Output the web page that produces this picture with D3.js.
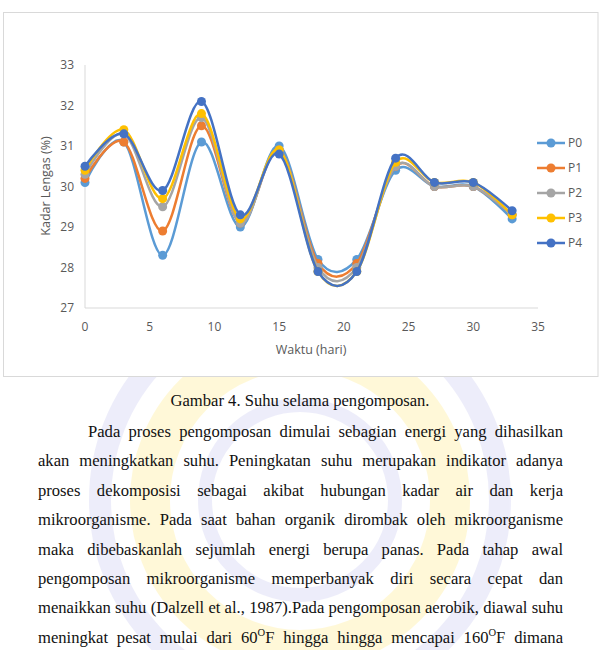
<!DOCTYPE html>
<html>
<head>
<meta charset="utf-8">
<script src="https://cdn.jsdelivr.net/npm/d3@7"></script>
<style>
body { margin: 0; background: #fff; }
svg text { font-family: "Open Sans", "Liberation Sans", sans-serif; }
svg text.para { font-family: "Liberation Serif", serif; font-size: 16.6px; fill: #111; }
</style>
</head>
<body>
<script>
// data
var days = [0, 3, 6, 9, 12, 15, 18, 21, 24, 27, 30, 33];
var seriesNames = ["P0", "P1", "P2", "P3", "P4"];
var P0 = [30.1, 31.1, 28.3, 31.1, 29.0, 31.0, 28.2, 28.2, 30.4, 30.0, 30.0, 29.2];
var P1 = [30.2, 31.1, 28.9, 31.5, 29.1, 30.9, 28.1, 28.1, 30.5, 30.0, 30.0, 29.3];
var P2 = [30.3, 31.3, 29.5, 31.7, 29.1, 30.9, 28.0, 28.0, 30.5, 30.0, 30.0, 29.3];
var P3 = [30.4, 31.4, 29.7, 31.8, 29.2, 30.9, 27.9, 27.9, 30.6, 30.1, 30.1, 29.3];
var P4 = [30.5, 31.3, 29.9, 32.1, 29.3, 30.8, 27.9, 27.9, 30.7, 30.1, 30.1, 29.4];
var colors = ["#5b9bd5", "#ed7d31", "#a5a5a5", "#ffc000", "#4472c4"];
var xTicks = [0, 5, 10, 15, 20, 25, 30, 35];
var yTicks = [27, 28, 29, 30, 31, 32, 33];

var caption = "Gambar 4. Suhu selama pengomposan.";
var lines = [
  "Pada proses pengomposan dimulai sebagian energi yang dihasilkan",
  "akan meningkatkan suhu.  Peningkatan suhu merupakan indikator adanya",
  "proses dekomposisi sebagai akibat hubungan kadar air dan kerja",
  "mikroorganisme. Pada saat bahan organik dirombak oleh mikroorganisme",
  "maka dibebaskanlah sejumlah energi berupa panas. Pada tahap awal",
  "pengomposan mikroorganisme memperbanyak diri secara cepat dan",
  "menaikkan suhu (Dalzell et al., 1987).Pada pengomposan aerobik, diawal  suhu",
  "meningkat pesat mulai dari 60|F hingga hingga mencapai 160|F dimana"
];

var W = 602, H = 650;
var svg = d3.select("body").append("svg").attr("width", W).attr("height", H);

// faint watermark behind the text
var wm = svg.append("g").attr("opacity", 0.4);
wm.append("circle").attr("cx", 300).attr("cy", 500).attr("r", 150)
  .attr("fill", "none").attr("stroke", "#fff0a0").attr("stroke-width", 40);
wm.append("circle").attr("cx", 300).attr("cy", 500).attr("r", 200)
  .attr("fill", "none").attr("stroke", "#d4d4f4").attr("stroke-width", 22);
wm.append("circle").attr("cx", 300).attr("cy", 500).attr("r", 95)
  .attr("fill", "none").attr("stroke", "#d4d4f4").attr("stroke-width", 14);

// chart frame
svg.append("rect").attr("x", 3.5).attr("y", 12.5).attr("width", 594.5).attr("height", 364)
  .attr("fill", "#fff").attr("stroke", "#d9d9d9");

var x = d3.scaleLinear().domain([0, 35]).range([85, 538]);
var y = d3.scaleLinear().domain([27, 33]).range([308, 65]);

var g = svg.append("g");
g.append("line").attr("x1", 85).attr("x2", 85).attr("y1", y(33)).attr("y2", y(27)).attr("stroke", "#d9d9d9");
g.append("line").attr("x1", 85).attr("x2", 538).attr("y1", y(27)).attr("y2", y(27)).attr("stroke", "#d9d9d9");

g.selectAll(".yt").data(yTicks).enter().append("text")
  .attr("x", 74).attr("y", function(d){ return y(d); }).attr("dy", "0.35em")
  .attr("text-anchor", "end").attr("font-size", 12).attr("fill", "#595959")
  .text(function(d){ return d; });
g.selectAll(".xt").data(xTicks).enter().append("text")
  .attr("x", function(d){ return x(d); }).attr("y", 327).attr("dy", "0.35em")
  .attr("text-anchor", "middle").attr("font-size", 12).attr("fill", "#595959")
  .text(function(d){ return d; });

g.append("text").attr("x", 311).attr("y", 350).attr("dy", "0.35em")
  .attr("text-anchor", "middle").attr("font-size", 12.5).attr("fill", "#595959").text("Waktu (hari)");
g.append("text").attr("transform", "translate(46,186) rotate(-90)").attr("dy", "0.35em")
  .attr("text-anchor", "middle").attr("font-size", 12.5).attr("fill", "#595959").text("Kadar Lengas (%)");

var allSeries = [P0, P1, P2, P3, P4];
var line = d3.line()
  .x(function(d, i){ return x(days[i]); })
  .y(function(d){ return y(d); })
  .curve(d3.curveCardinal.tension(0));

allSeries.forEach(function(vals, s){
  g.append("path").attr("d", line(vals)).attr("fill", "none")
    .attr("stroke", colors[s]).attr("stroke-width", 2.5);
  g.selectAll(".pt" + s).data(vals).enter().append("circle")
    .attr("cx", function(d, i){ return x(days[i]); })
    .attr("cy", function(d){ return y(d); })
    .attr("r", 4.5).attr("fill", colors[s]);
});

// legend
var lg = svg.append("g");
seriesNames.forEach(function(n, i){
  var ly = 143 + i * 25;
  lg.append("line").attr("x1", 537).attr("x2", 565).attr("y1", ly).attr("y2", ly)
    .attr("stroke", colors[i]).attr("stroke-width", 2.5);
  lg.append("circle").attr("cx", 551).attr("cy", ly).attr("r", 4.5).attr("fill", colors[i]);
  lg.append("text").attr("x", 568).attr("y", ly).attr("dy", "0.35em")
    .attr("font-size", 12).attr("fill", "#595959").text(n);
});

// caption and paragraph
svg.append("text").attr("class", "para").attr("x", 300).attr("y", 406)
  .attr("text-anchor", "middle").text(caption);

var left = 38, right = 563, indent = 88;
lines.forEach(function(ln, i){
  var by = 437 + i * 29.4;
  var words = ln.split(/ +/);
  var x0 = i === 0 ? indent : left;
  // measure words, then spread them to justify
  var spans = words.map(function(w){
    var tt = svg.append("text").attr("class", "para").attr("x", -999).attr("y", -999);
    appendWord(tt, w);
    var wd = tt.node().getComputedTextLength();
    tt.remove();
    return { w: w, width: wd };
  });
  var total = d3.sum(spans, function(s){ return s.width; });
  var gap = Math.max(3, (right - x0 - total) / (spans.length - 1));
  var cx = x0;
  spans.forEach(function(s){
    var wt = svg.append("text").attr("class", "para").attr("x", cx).attr("y", by);
    appendWord(wt, s.w);
    cx += s.width + gap;
  });
});

function appendWord(sel, w){
  var parts = w.split("|");
  sel.append("tspan").text(parts[0]);
  if (parts.length > 1) {
    sel.append("tspan").attr("dy", -7).attr("font-size", 10.5).text("O");
    sel.append("tspan").attr("dy", 7).text(parts[1]);
  }
}
</script>
</body>
</html>
